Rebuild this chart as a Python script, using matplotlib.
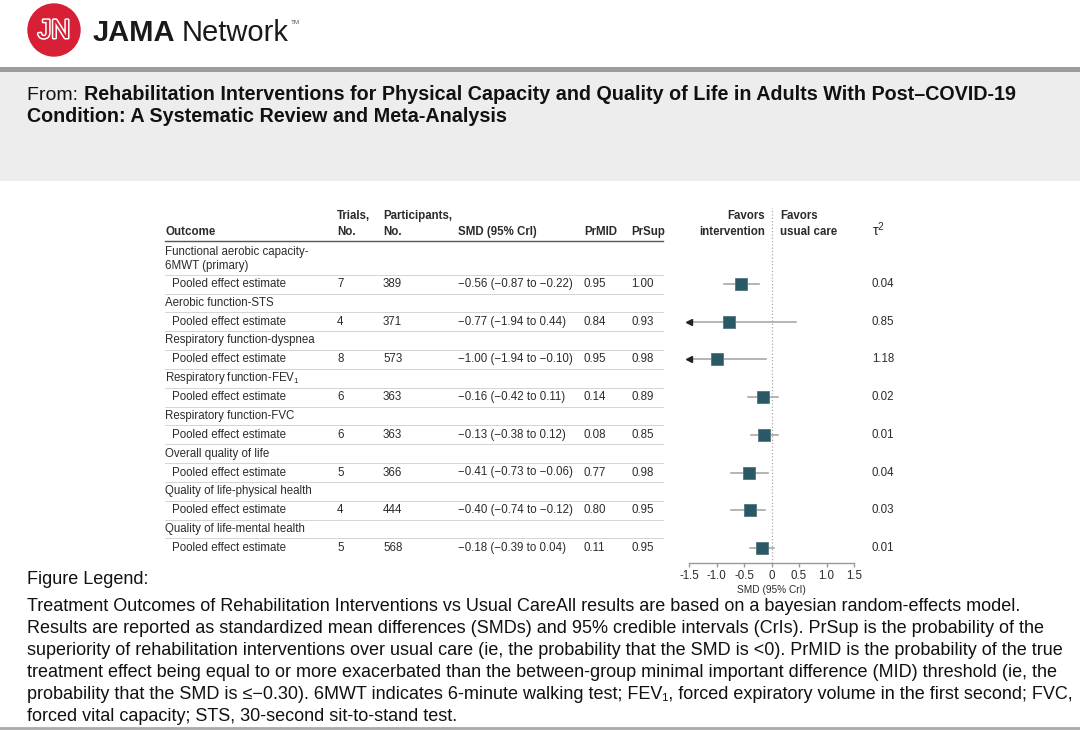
import matplotlib
matplotlib.use("Agg")
import matplotlib.pyplot as plt
import matplotlib.patheffects as pe
from matplotlib import font_manager
from matplotlib.patches import Circle, Rectangle

# table font: narrow if we have it, plain Liberation otherwise
names = {f.name for f in font_manager.fontManager.ttflist}
if "Liberation Sans Narrow" in names:
    tfont, tsize = "Liberation Sans Narrow", 9.8
else:
    tfont, tsize = "Liberation Sans", 8.3

plt.rcParams["font.family"] = ["Liberation Sans", "DejaVu Sans"]
plt.rcParams["mathtext.fontset"] = "custom"
plt.rcParams["mathtext.rm"] = "Liberation Sans"
plt.rcParams["mathtext.it"] = "Liberation Sans:italic"

# data
outcomes = ["Functional aerobic capacity-\n6MWT (primary)", "Aerobic function-STS",
            "Respiratory function-dyspnea", "Respiratory function-FEV$_1$",
            "Respiratory function-FVC", "Overall quality of life",
            "Quality of life-physical health", "Quality of life-mental health"]
trials = [7, 4, 8, 6, 6, 5, 4, 5]
participants = [389, 371, 573, 363, 363, 366, 444, 568]
smd = [-0.56, -0.77, -1.00, -0.16, -0.13, -0.41, -0.40, -0.18]
lo = [-0.87, -1.94, -1.94, -0.42, -0.38, -0.73, -0.74, -0.39]
hi = [-0.22, 0.44, -0.10, 0.11, 0.12, -0.06, -0.12, 0.04]
prmid = [0.95, 0.84, 0.95, 0.14, 0.08, 0.77, 0.80, 0.11]
prsup = [1.00, 0.93, 0.98, 0.89, 0.85, 0.98, 0.95, 0.95]
tau2 = [0.04, 0.85, 1.18, 0.02, 0.01, 0.04, 0.03, 0.01]
xticks = [-1.5, -1.0, -0.5, 0, 0.5, 1.0, 1.5]
xticklabels = ["-1.5", "-1.0", "-0.5", "0", "0.5", "1.0", "1.5"]

title_from = "From: "
title_bold = ["Rehabilitation Interventions for Physical Capacity and Quality of Life in Adults With Post\u2013COVID-19",
              "Condition: A Systematic Review and Meta-Analysis"]
legend_lines = [
    "Treatment Outcomes of Rehabilitation Interventions vs Usual CareAll results are based on a bayesian random-effects model.",
    "Results are reported as standardized mean differences (SMDs) and 95% credible intervals (CrIs). PrSup is the probability of the",
    "superiority of rehabilitation interventions over usual care (ie, the probability that the SMD is <0). PrMID is the probability of the true",
    "treatment effect being equal to or more exacerbated than the between-group minimal important difference (MID) threshold (ie, the",
    "probability that the SMD is \u2264\u22120.30). 6MWT indicates 6-minute walking test; FEV\u2081, forced expiratory volume in the first second; FVC,",
    "forced vital capacity; STS, 30-second sit-to-stand test.",
]

W, H = 1080, 730
fig = plt.figure(figsize=(W / 100, H / 100), dpi=100)
bg = fig.add_axes([0, 0, 1, 1])
bg.set_xlim(0, W)
bg.set_ylim(H, 0)
bg.axis("off")

# header / logo
bg.add_patch(Circle((54, 30), 26, color="#d71f36", zorder=2))
bg.text(54, 31, "JN", color="#d71f36", fontsize=19, ha="center", va="center", zorder=3,
        path_effects=[pe.withStroke(linewidth=2.2, foreground="white")])
bg.text(93, 33, "JAMA", fontsize=21, fontweight="bold", color="#1a1a1a", va="center")
bg.text(182, 33, "Network", fontsize=21, color="#1a1a1a", va="center")
bg.text(291, 23, "TM", fontsize=4.5, color="#555555", va="center")
bg.add_patch(Rectangle((0, 67), W, 5, color="#9c9c9c", lw=0))
bg.add_patch(Rectangle((0, 72), W, 109, color="#ededed", lw=0))

bg.text(27, 100, title_from, fontsize=14, va="baseline", color="#111111")
bg.text(84, 100, title_bold[0], fontsize=14.2, fontweight="bold", va="baseline", color="#111111")
bg.text(27, 122, title_bold[1], fontsize=14.2, fontweight="bold", va="baseline", color="#111111")

# table
tc = "#2b2b2b"
kw = dict(fontsize=tsize, family=tfont, color=tc, va="center")
hkw = dict(kw, fontweight="bold")
bg.text(165, 232, "Outcome", **hkw)
bg.text(337, 216, "Trials,", **hkw)
bg.text(337, 232, "No.", **hkw)
bg.text(383, 216, "Participants,", **hkw)
bg.text(383, 232, "No.", **hkw)
bg.text(458, 232, "SMD (95% CrI)", **hkw)
bg.text(584, 232, "PrMID", **hkw)
bg.text(631, 232, "PrSup", **hkw)
bg.text(765, 216, "Favors", ha="right", **hkw)
bg.text(765, 232, "intervention", ha="right", **hkw)
bg.text(780, 216, "Favors", **hkw)
bg.text(780, 232, "usual care", **hkw)
bg.text(872, 230, "\u03c4$^2$", **dict(kw, fontsize=tsize + 2))
bg.plot([165, 663], [241, 241], color="#555555", lw=1)

pooled_y = [284 + 37.7 * k for k in range(len(outcomes))]
label_y = [y - 18.9 for y in pooled_y]
label_y[0] = 259

def fmt(v):
    return f"{v:.2f}".replace("-", "\u2212")

for i, name in enumerate(outcomes):
    bg.text(165, label_y[i], name, linespacing=1.3, **kw)
    y = pooled_y[i]
    bg.text(172, y, "Pooled effect estimate", **kw)
    bg.text(337, y, str(trials[i]), **kw)
    bg.text(383, y, str(participants[i]), **kw)
    bg.text(458, y, f"{fmt(smd[i])} ({fmt(lo[i])} to {fmt(hi[i])})", **kw)
    bg.text(584, y, f"{prmid[i]:.2f}", **kw)
    bg.text(631, y, f"{prsup[i]:.2f}", **kw)
    bg.text(872, y, f"{tau2[i]:.2f}", **kw)
    bg.plot([165, 663], [y - 9.5, y - 9.5], color="#d4d4d4", lw=0.7)
    if i < len(outcomes) - 1:
        bg.plot([165, 663], [y + 9.5, y + 9.5], color="#d4d4d4", lw=0.7)

# forest panel
x0, x1, ytop, ybot = 689, 854, 200, 563
ax = fig.add_axes([x0 / W, 1 - ybot / H, (x1 - x0) / W, (ybot - ytop) / H])
ax.set_facecolor("none")
ax.set_xlim(-1.5, 1.5)
ax.set_ylim(ybot, ytop)
ax.axvline(0, ymin=0, ymax=(ybot - 208) / (ybot - ytop), color="#aaaaaa", ls=":", lw=0.9)
for i in range(len(smd)):
    y = pooled_y[i]
    left = max(lo[i], -1.5)
    ax.plot([left, hi[i]], [y, y], color="#a0a0a0", lw=1.1, zorder=2)
    if lo[i] < -1.5:
        ax.plot(-1.5, y, marker="<", ms=4.5, color="#222222", clip_on=False, zorder=3)
    ax.plot(smd[i], y, marker="s", ms=8.8, color="#2b5865", mec="#4f7580", mew=0.6, zorder=4)

for s in ["top", "left", "right"]:
    ax.spines[s].set_visible(False)
ax.spines["bottom"].set_color("#999999")
ax.spines["bottom"].set_linewidth(1)
ax.set_yticks([])
ax.set_xticks(xticks)
ax.set_xticklabels(xticklabels, family=tfont, fontsize=tsize, color=tc)
ax.tick_params(axis="x", length=3, width=1, color="#999999", pad=2)
ax.set_xlabel("SMD (95% CrI)", family=tfont, fontsize=tsize - 1, color=tc, labelpad=2)

# legend text
bg.text(27, 584, "Figure Legend:", fontsize=13, va="baseline", color="#111111")
for k, line in enumerate(legend_lines):
    bg.text(27, 611 + 22 * k, line, fontsize=13, va="baseline", color="#111111")
bg.plot([0, W], [728, 728], color="#aaaaaa", lw=2)

fig.savefig("out.png", dpi=100)
